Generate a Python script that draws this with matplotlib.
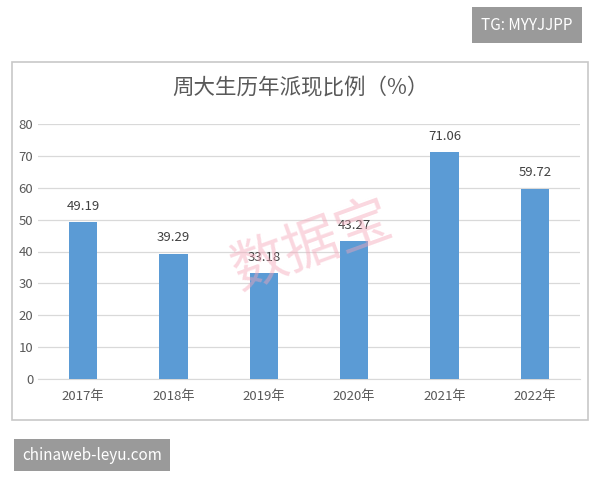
import matplotlib
matplotlib.use("Agg")
import matplotlib.pyplot as plt
from matplotlib.patches import Rectangle

plt.rcParams['font.family'] = ['Noto Sans CJK SC', 'DejaVu Sans']

years = ["2017年", "2018年", "2019年", "2020年", "2021年", "2022年"]
values = [49.19, 39.29, 33.18, 43.27, 71.06, 59.72]
yticks = [0, 10, 20, 30, 40, 50, 60, 70, 80]

fig = plt.figure(figsize=(6, 4.8), dpi=100)
fig.patches.append(Rectangle((12/600, 1-420/480), 576/600, 358/480, transform=fig.transFigure,
                             fill=False, edgecolor='#c8c8c8', lw=1.2))
ax = fig.add_axes([38/600, 1-379/480, 542/600, 255/480])
x = range(len(years))
ax.bar(x, values, width=0.31, color='#5B9BD5', zorder=3)
for i, v in enumerate(values):
    ax.text(i, v + 3, f"{v:.2f}", ha='center', va='bottom', fontsize=9.5, color='#404040')
ax.set_ylim(0, 80)
ax.set_yticks(yticks)
ax.set_xlim(-0.5, len(years) - 0.5)
ax.set_xticks(list(x))
ax.set_xticklabels(years)
ax.grid(axis='y', color='#d9d9d9', lw=0.9, zorder=0)
for s in ['top', 'right', 'left']:
    ax.spines[s].set_visible(False)
ax.spines['bottom'].set_color('#d9d9d9')
ax.tick_params(length=0, labelsize=9.5, colors='#595959')
ax.tick_params(axis='x', pad=8)
fig.text(0.5, 1-88/480, "周大生历年派现比例（%）", ha='center', va='center', fontsize=15.5, color='#595959')
fig.text(0.52, 1-245/480, "数据宝", ha='center', va='center', fontsize=40, color='#f4a6b8',
         alpha=0.45, rotation=20)
fig.text(527/600, 1-25/480, "TG: MYYJJPP", ha='center', va='center', fontsize=11, color='white',
         bbox=dict(boxstyle='square,pad=0.6', fc='#9a9a9a', ec='none'))
fig.text(92/600, 1-455/480, "chinaweb-leyu.com", ha='center', va='center', fontsize=11, color='white',
         bbox=dict(boxstyle='square,pad=0.5', fc='#9a9a9a', ec='none'))
fig.savefig("out.png", dpi=100, facecolor='white')
